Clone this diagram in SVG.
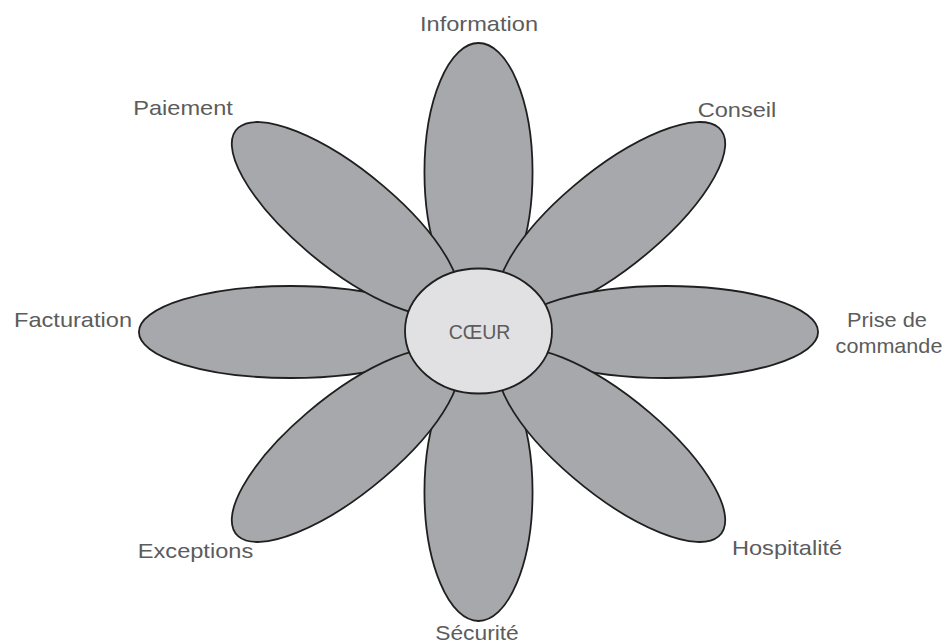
<svg xmlns="http://www.w3.org/2000/svg" width="945" height="644" viewBox="0 0 945 644">
  <style>
    .petal { fill: #a7a8ab; stroke: #1f1f1f; stroke-width: 1.8; vector-effect: non-scaling-stroke; }
    .core { fill: #e1e1e3; stroke: #1f1f1f; stroke-width: 1.8; vector-effect: non-scaling-stroke; }
    .lbl { font-family: "Liberation Sans", Arial, sans-serif; font-size: 20px; fill: #5c5c5c; text-anchor: middle; }
  </style>
  <rect x="0" y="0" width="945" height="644" fill="#ffffff"/>
  <g id="information">
    <ellipse class="petal" cx="160" cy="0" rx="129" ry="46" transform="translate(478.5,332) scale(1.175,1) rotate(270)"/>
    <text class="lbl" transform="translate(479,31) scale(1.18,1)">Information</text>
  </g>
  <g id="conseil">
    <ellipse class="petal" cx="160" cy="0" rx="129" ry="46" transform="translate(478.5,332) scale(1.175,1) rotate(315)"/>
    <text class="lbl" transform="translate(737,117) scale(1.18,1)">Conseil</text>
  </g>
  <g id="prise-de-commande">
    <ellipse class="petal" cx="160" cy="0" rx="129" ry="46" transform="translate(478.5,332) scale(1.175,1)"/>
    <text class="lbl" transform="translate(887,327) scale(1.09,1)">Prise de</text>
    <text class="lbl" transform="translate(889,353) scale(1.08,1)">commande</text>
  </g>
  <g id="facturation">
    <ellipse class="petal" cx="160" cy="0" rx="129" ry="46" transform="translate(478.5,332) scale(1.175,1) rotate(180)"/>
    <text class="lbl" transform="translate(73,327) scale(1.18,1)">Facturation</text>
  </g>
  <g id="securite">
    <ellipse class="petal" cx="160" cy="0" rx="129" ry="46" transform="translate(478.5,332) scale(1.175,1) rotate(90)"/>
    <text class="lbl" transform="translate(477,640) scale(1.14,1)">Sécurité</text>
  </g>
  <g id="paiement">
    <ellipse class="petal" cx="160" cy="0" rx="129" ry="46" transform="translate(478.5,332) scale(1.175,1) rotate(225)"/>
    <text class="lbl" transform="translate(183,115) scale(1.18,1)">Paiement</text>
  </g>
  <g id="exceptions">
    <ellipse class="petal" cx="160" cy="0" rx="129" ry="46" transform="translate(478.5,332) scale(1.175,1) rotate(135)"/>
    <text class="lbl" transform="translate(195.5,558) scale(1.18,1)">Exceptions</text>
  </g>
  <g id="hospitalite">
    <ellipse class="petal" cx="160" cy="0" rx="129" ry="46" transform="translate(478.5,332) scale(1.175,1) rotate(45)"/>
    <text class="lbl" transform="translate(787,555) scale(1.18,1)">Hospitalité</text>
  </g>
  <g id="coeur">
    <ellipse class="core" cx="478.5" cy="331" rx="73.5" ry="62.5"/>
    <text class="lbl" x="479.5" y="339" style="font-size:19.5px">CŒUR</text>
  </g>
</svg>
